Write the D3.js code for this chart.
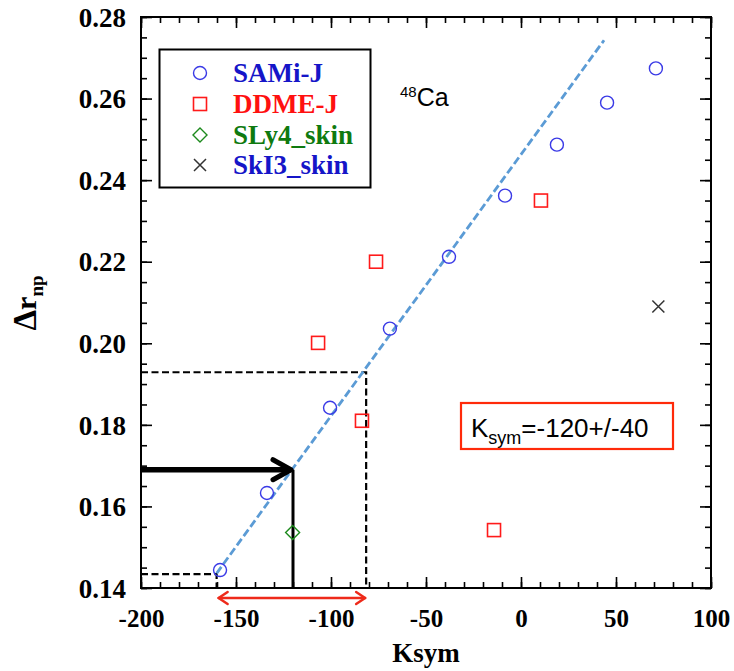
<!DOCTYPE html>
<html>
<head>
<meta charset="utf-8">
<script src="https://cdn.jsdelivr.net/npm/d3@7"></script>
<style>
  html, body { margin: 0; padding: 0; background: #fff; }
  svg { display: block; }
</style>
</head>
<body>
<svg id="chart" width="734" height="671"></svg>
<script>
// ---------------- data ----------------
const samiK   = [-158.4, -133.7, -100.5, -69.0, -37.9, -8.4, 18.9, 45.3, 71.0];
const samiR   = [0.1444, 0.1633, 0.1842, 0.2036, 0.2212, 0.2362, 0.2487, 0.2590, 0.2674];
const ddmeK   = [-106.8, -76.3, -83.7, 10.5, -14.2];
const ddmeR   = [0.2001, 0.2200, 0.1810, 0.2350, 0.1542];
const sly4K   = [-120.2];
const sly4R   = [0.1536];
const ski3K   = [72.3];
const ski3R   = [0.2090];
const fitK    = [-160.2, 43.7];
const fitR    = [0.1436, 0.2743];
const kCentral = -120;
const rCentral = 0.1690;
const kBand    = [-160.2, -81.5];
const rBand    = [0.1434, 0.1929];
const xTicks  = [-200, -150, -100, -50, 0, 50, 100];
const yTicks  = [0.14, 0.16, 0.18, 0.20, 0.22, 0.24, 0.26, 0.28];
const legendNames = ["SAMi-J", "DDME-J", "SLy4_skin", "SkI3_skin"];

// ---------------- layout ----------------
const svg = d3.select("#chart");
const L = 141, R = 711, T = 17, B = 588;
const x = d3.scaleLinear().domain([-200, 100]).range([L, R]);
const y = d3.scaleLinear().domain([0.14, 0.28]).range([B, T]);
const serif = "'Liberation Serif','Times New Roman',serif";
const sans = "'Liberation Sans',Arial,sans-serif";

const xMinor = d3.range(-200, 101, 10);
const yMinor = d3.range(0, 29).map(i => 0.14 + i * 0.005);

function axisGroup(axis, tx, ty) {
  const g = svg.append("g").attr("transform", `translate(${tx},${ty})`).call(axis);
  g.select(".domain").remove();
  g.selectAll("line").attr("stroke", "#000").attr("stroke-width", 1.6);
  return g;
}
// minor ticks
axisGroup(d3.axisBottom(x).tickValues(xMinor).tickSize(-6).tickFormat(""), 0, B);
axisGroup(d3.axisTop(x).tickValues(xMinor).tickSize(-6).tickFormat(""), 0, T);
axisGroup(d3.axisLeft(y).tickValues(yMinor).tickSize(-6).tickFormat(""), L, 0);
axisGroup(d3.axisRight(y).tickValues(yMinor).tickSize(-6).tickFormat(""), R, 0);
// major ticks
const gx = axisGroup(d3.axisBottom(x).tickValues(xTicks).tickSize(-11).tickPadding(0).tickFormat(d => String(d)), 0, B);
gx.selectAll("text").attr("y", 39).attr("dy", 0)
  .style("font-family", serif).style("font-weight", "bold").style("font-size", "25px").attr("fill", "#000");
axisGroup(d3.axisTop(x).tickValues(xTicks).tickSize(-11).tickFormat(""), 0, T);
const gy = axisGroup(d3.axisLeft(y).tickValues(yTicks).tickSize(-11).tickFormat(d3.format(".2f")), L, 0);
gy.selectAll("text").attr("x", -15).attr("dy", "0.34em")
  .style("font-family", serif).style("font-weight", "bold").style("font-size", "27px").attr("fill", "#000");
axisGroup(d3.axisRight(y).tickValues(yTicks).tickSize(-11).tickFormat(""), R, 0);

// frame
svg.append("rect").attr("x", L).attr("y", T).attr("width", R - L).attr("height", B - T)
  .attr("fill", "none").attr("stroke", "#000").attr("stroke-width", 2);

// axis titles
svg.append("text").attr("x", (L + R) / 2).attr("y", 662).attr("text-anchor", "middle")
  .style("font-family", serif).style("font-weight", "bold").style("font-size", "27px").text("Ksym");
const yl = svg.append("text").attr("transform", "translate(36,303) rotate(-90)").attr("text-anchor", "middle")
  .style("font-family", serif).style("font-weight", "bold").style("font-size", "30px");
yl.append("tspan").style("font-size", "33px").text("Δ");
yl.append("tspan").text("r");
yl.append("tspan").attr("dy", 7).style("font-size", "19px").text("np");

// black dashed guide lines
const guide = svg.append("g").attr("fill", "none").attr("stroke", "#000").attr("stroke-width", 2.2).attr("stroke-dasharray", "7,3.5");
guide.append("path").attr("d", d3.line()([[x(-200), y(rBand[1])], [x(kBand[1]), y(rBand[1])], [x(kBand[1]), y(0.14)]]));
guide.append("path").attr("d", d3.line()([[x(-200), y(rBand[0])], [x(kBand[0]), y(rBand[0])], [x(kBand[0]), y(0.14)]]));

// fit line
svg.append("path").attr("d", d3.line()(fitK.map((k, i) => [x(k), y(fitR[i])])))
  .attr("fill", "none").attr("stroke", "#5b9bd5").attr("stroke-width", 2.8).attr("stroke-dasharray", "8,3.5");

// black arrow and vertical line
svg.append("line").attr("x1", x(kCentral)).attr("x2", x(kCentral)).attr("y1", y(rCentral)).attr("y2", y(0.14))
  .attr("stroke", "#000").attr("stroke-width", 3);
svg.append("line").attr("x1", x(-200)).attr("x2", x(kCentral) - 3).attr("y1", y(rCentral)).attr("y2", y(rCentral))
  .attr("stroke", "#000").attr("stroke-width", 5.5);
svg.append("path").attr("d", d3.line()([[x(kCentral) - 20, y(rCentral) - 10], [x(kCentral) - 2, y(rCentral)], [x(kCentral) - 20, y(rCentral) + 10]]))
  .attr("fill", "none").attr("stroke", "#000").attr("stroke-width", 5).attr("stroke-linecap", "round").attr("stroke-linejoin", "round");

// red double arrow
const ay = 598;
const ax1 = x(kBand[0]) + 2, ax2 = x(kBand[1]) - 1;
const red = svg.append("g").attr("fill", "none").attr("stroke", "#ee2a1a").attr("stroke-width", 2.5).attr("stroke-linecap", "round").attr("stroke-linejoin", "round");
red.append("line").attr("x1", ax1).attr("x2", ax2).attr("y1", ay).attr("y2", ay);
red.append("path").attr("d", d3.line()([[ax1 + 9, ay - 6], [ax1, ay], [ax1 + 9, ay + 6]]));
red.append("path").attr("d", d3.line()([[ax2 - 9, ay - 6], [ax2, ay], [ax2 - 9, ay + 6]]));

// markers
const circ = "#3a3ae6", sq = "#ff1a1a", gr = "#1d8a1d", cross = "#333";
function drawCircles(g, xs, ys) {
  g.selectAll(null).data(xs).join("circle").attr("cx", d => x(d)).attr("cy", (d, i) => y(ys[i]))
    .attr("r", 6.5).attr("fill", "none").attr("stroke", circ).attr("stroke-width", 1.4);
}
function drawSquares(g, xs, ys) {
  g.selectAll(null).data(xs).join("rect").attr("x", d => x(d) - 6.5).attr("y", (d, i) => y(ys[i]) - 6.5)
    .attr("width", 13).attr("height", 13).attr("fill", "none").attr("stroke", sq).attr("stroke-width", 1.6);
}
function drawDiamonds(g, xs, ys) {
  g.selectAll(null).data(xs).join("path")
    .attr("d", (d, i) => { const cx = x(d), cy = y(ys[i]); return `M${cx},${cy - 7}L${cx + 7},${cy}L${cx},${cy + 7}L${cx - 7},${cy}Z`; })
    .attr("fill", "none").attr("stroke", gr).attr("stroke-width", 1.4);
}
function drawCrosses(g, xs, ys) {
  g.selectAll(null).data(xs).join("path")
    .attr("d", (d, i) => { const cx = x(d), cy = y(ys[i]); return `M${cx - 6},${cy - 6}L${cx + 6},${cy + 6}M${cx + 6},${cy - 6}L${cx - 6},${cy + 6}`; })
    .attr("fill", "none").attr("stroke", cross).attr("stroke-width", 1.5);
}
const marks = svg.append("g");
drawCircles(marks, samiK, samiR);
drawSquares(marks, ddmeK, ddmeR);
drawDiamonds(marks, sly4K, sly4R);
drawCrosses(marks, ski3K, ski3R);

// legend
svg.append("rect").attr("x", 159.5).attr("y", 49.5).attr("width", 211).attr("height", 138)
  .attr("fill", "#fff").attr("stroke", "#000").attr("stroke-width", 2);
const legColors = ["#1515c8", "#ff1010", "#0f7a0f", "#1515c8"];
const legY = [73, 104, 135, 165];
legendNames.forEach((name, i) => {
  const g = svg.append("g");
  const kx = x.invert(200);
  const ry = y.invert(legY[i]);
  if (i === 0) drawCircles(g, [kx], [ry]);
  if (i === 1) drawSquares(g, [kx], [ry]);
  if (i === 2) drawDiamonds(g, [kx], [ry]);
  if (i === 3) drawCrosses(g, [kx], [ry]);
  g.append("text").attr("x", 233).attr("y", legY[i] + 9)
    .style("font-family", serif).style("font-weight", "bold").style("font-size", "27px")
    .attr("fill", legColors[i]).text(name);
});

// 48Ca label
const ca = svg.append("text").attr("x", 400).attr("y", 106)
  .style("font-family", sans).style("font-size", "25px").attr("fill", "#000");
ca.append("tspan").attr("dy", -9).style("font-size", "15px").text("48");
ca.append("tspan").attr("dy", 9).text("Ca");

// Ksym annotation box
svg.append("rect").attr("x", 461).attr("y", 403).attr("width", 212).attr("height", 46)
  .attr("fill", "#fff").attr("stroke", "#ff2a0a").attr("stroke-width", 2.2);
const kt = svg.append("text").attr("x", 471).attr("y", 437)
  .style("font-family", sans).style("font-size", "26px").attr("fill", "#000");
kt.append("tspan").text("K");
kt.append("tspan").attr("dy", 7).style("font-size", "18px").text("sym");
kt.append("tspan").attr("dy", -7).text("=-120+/-40");
</script>
</body>
</html>
